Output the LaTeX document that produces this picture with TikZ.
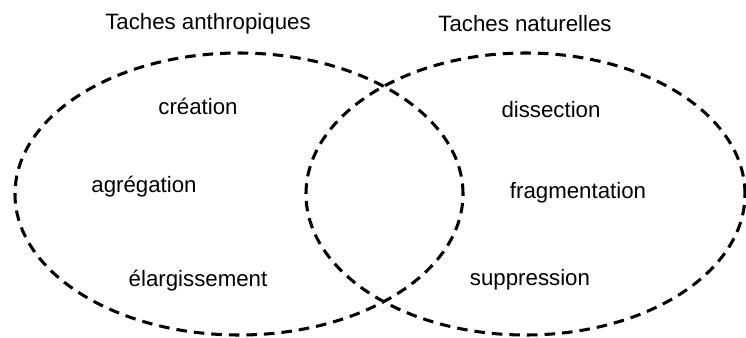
\documentclass[tikz,border=0pt]{standalone}
\usepackage{fontspec}
\setmainfont{Liberation Sans}
\usepackage{tikz}
\usetikzlibrary{shapes.geometric, positioning}
\tikzstyle{zone} = [ellipse, draw=black, line width=2.6pt, dash pattern=on 9pt off 6pt, inner sep=0pt]
\tikzstyle{heading} = [text centered, inner sep=0pt, font=\fontsize{19}{22}\selectfont]
\tikzstyle{process} = [text centered, inner sep=0pt, font=\fontsize{19}{22}\selectfont]

\begin{document}
\begin{tikzpicture}[x=0.03cm, y=-0.03cm]
\useasboundingbox (0,0) rectangle (746,338);

% Ensembles
\node (anthro) [zone, minimum width=13.44cm, minimum height=8.46cm] at (239,194) {};
\node (nature) [zone, minimum width=13.17cm, minimum height=8.46cm] at (525.5,194) {};

% Titres
\node (anthrotitle) [heading] at (208,24) {Taches anthropiques};
\node (naturetitle) [heading] at (525,24) {Taches naturelles};

% Processus anthropiques
\node (creation) [process] at (198,106) {création};
\node (agregation) [process] at (144,187) {agrégation};
\node (elargis) [process] at (198,281) {élargissement};

% Processus naturels
\node (dissection) [process] at (551,110) {dissection};
\node (fragment) [process] at (578,193) {fragmentation};
\node (suppression) [process] at (530,280) {suppression};

\end{tikzpicture}
\end{document}
